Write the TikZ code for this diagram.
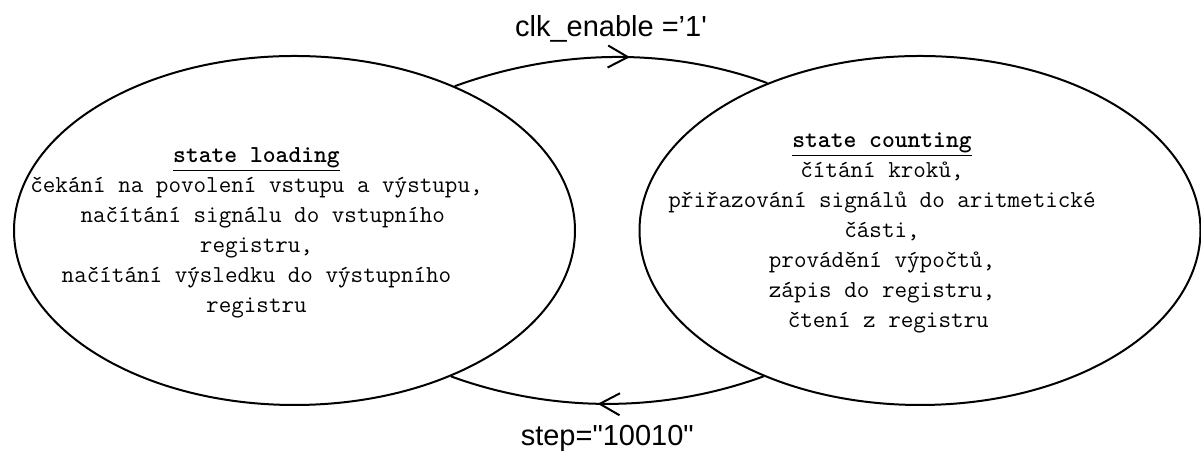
\documentclass[tikz,border=0pt]{standalone}
\usepackage{fontspec}
\setmainfont{Liberation Sans}
\usetikzlibrary{arrows.meta,shapes.geometric,decorations.markings}
\tikzset{
  statebox/.style={ellipse,draw=black,line width=1pt,fill=white,
    minimum width=280.5pt,minimum height=174.5pt,inner sep=0pt},
  statetext/.style={align=center,inner sep=0pt,
    font=\ttfamily\fontsize{12.2}{15}\selectfont},
  guard/.style={font=\fontsize{14.5}{17}\selectfont,inner sep=0pt},
  trans/.style={draw=black,line width=1pt,looseness=0.88,postaction={decorate},
    decoration={markings,mark=at position #1 with
      {\arrow{Straight Barb[length=10pt,width=11pt]}}}},
}

\begin{document}
\begin{tikzpicture}[x=0.5pt,y=0.5pt]
\useasboundingbox (0,0) rectangle (1201,453);

\node[statebox] (loading) at (294.5,222.5) {};
\node[statebox] (counting) at (920,222.5) {};

\node[statetext] (loadingtext) at ([xshift=-19pt,yshift=-1pt]loading.center)
  {\underline{\textbf{state loading}}\\
   čekání na povolení vstupu a výstupu,\\
   \hphantom{a}načítání signálu do vstupního\\
   registru,\\
   načítání výsledku do výstupního\\
   registru};
\node[statetext] (countingtext) at ([xshift=-19pt,yshift=-1pt]counting.center)
  {\underline{\textbf{state counting}}\\
   čítání kroků,\\
   přiřazování signálů do aritmetické\\
   části,\\
   provádění výpočtů,\\
   zápis do registru,\\
   \hphantom{a}čtení z registru};

\draw[trans=0.56] (loading.42.5) to[out=20,in=160]
  node[guard,above=7pt] (enablelabel) {clk\_enable ='1\textquotesingle} (counting.136.8);
\draw[trans=0.53] (counting.223.2) to[out=200,in=340]
  node[guard,below=10pt] (steplabel) {step=\textquotedbl 10010\textquotedbl} (loading.317.5);
\end{tikzpicture}
\end{document}
